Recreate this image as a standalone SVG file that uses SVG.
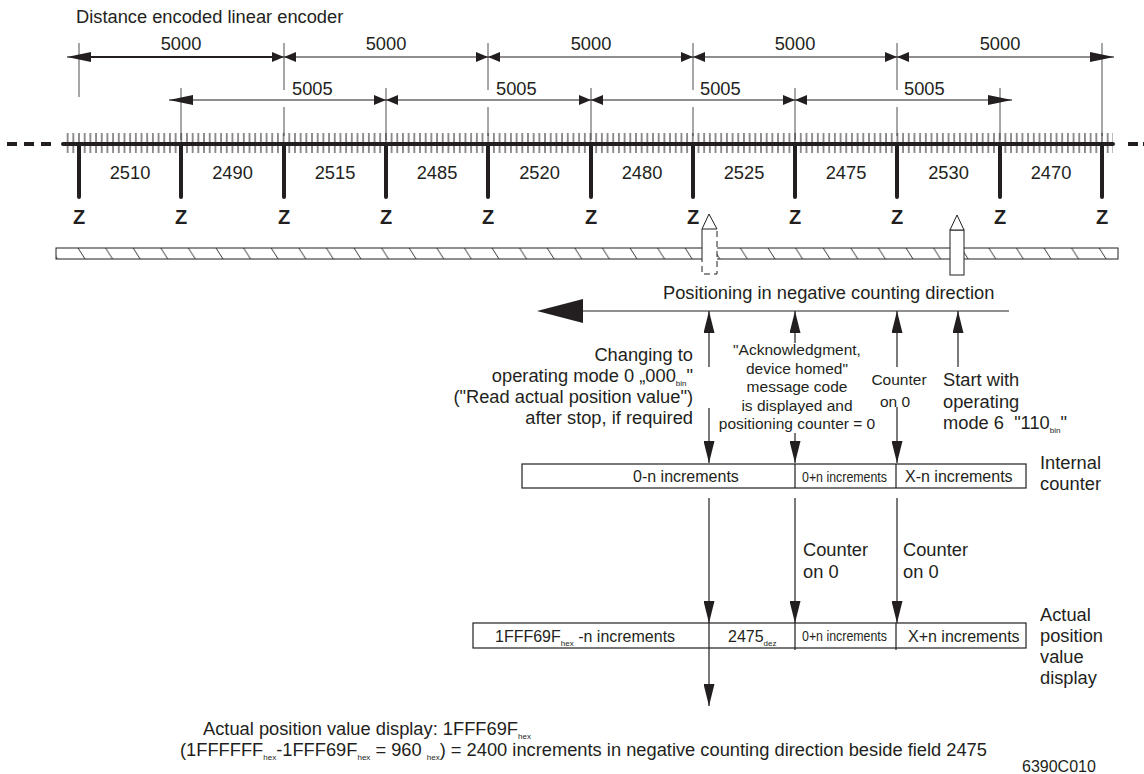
<svg xmlns="http://www.w3.org/2000/svg" width="1144" height="774" viewBox="0 0 1144 774">
<style>
text { font-family: "Liberation Sans", Arial, Helvetica, sans-serif; fill: #231f20; }
.t18 { font-size: 18.3px; }
.t16 { font-size: 16px; }
.t15 { font-size: 15.5px; }
.z { font-size: 20px; font-weight: bold; text-anchor: middle; }
.mid { text-anchor: middle; }
.end { text-anchor: end; }
.ln { stroke: #231f20; stroke-width: 1.2; fill: none; }
.ext { stroke: #3a3a3a; stroke-width: 0.9; fill: none; }
.thick { stroke: #231f20; stroke-width: 4; stroke-linecap: round; fill: none; }
.box { fill: #fff; stroke: #231f20; stroke-width: 1.2; }
.sub { font-size: 8px; }
</style>
<defs>
<marker id="arr" viewBox="0 0 22 11" refX="22" refY="5.5" markerWidth="22" markerHeight="11" markerUnits="userSpaceOnUse" orient="auto"><path d="M0,0L22,5.5L0,11z" fill="#231f20"/></marker>
<marker id="dimEnd" viewBox="0 0 24 10" refX="24" refY="5" markerWidth="24" markerHeight="10" markerUnits="userSpaceOnUse" orient="auto-start-reverse"><path d="M0,0L24,5L0,10z" fill="#231f20"/></marker>
<marker id="bow" viewBox="-12 -5 24 10" refX="0" refY="0" markerWidth="24" markerHeight="10" markerUnits="userSpaceOnUse" orient="0"><path d="M-12,-5L0,0L-12,5zM12,-5L0,0L12,5z" fill="#231f20"/></marker>
<pattern id="ticks" x="76.16" y="133" width="5.6833" height="20" patternUnits="userSpaceOnUse"><line x1="2.84" y1="0" x2="2.84" y2="20" stroke="#231f20" stroke-width="1"/></pattern>
<pattern id="hatch" x="76" y="248" width="27.6" height="11" patternUnits="userSpaceOnUse"><line x1="2" y1="0" x2="9" y2="11" stroke="#231f20" stroke-width="0.9"/></pattern>
</defs>
<rect width="1144" height="774" fill="#fff"/>

<text class="t18" x="76" y="23">Distance encoded linear encoder</text>

<g id="scale">
<line x1="7" y1="144" x2="55" y2="144" stroke="#231f20" stroke-width="4" stroke-dasharray="10 7"/>
<line x1="1128" y1="144" x2="1144" y2="144" stroke="#231f20" stroke-width="4" stroke-dasharray="10 5"/>
<rect x="65" y="133" width="1048" height="20" fill="url(#ticks)"/>
<line class="thick" x1="63" y1="144" x2="1113" y2="144"/>
<path class="thick" d="M79,144V197M181,144V197M284,144V197M386,144V197M488,144V197M591,144V197M693,144V197M795,144V197M897,144V197M1000,144V197M1102,144V197"/>
<g class="t18 mid">
<text x="130" y="178.5">2510</text>
<text x="232.5" y="178.5">2490</text>
<text x="335" y="178.5">2515</text>
<text x="437" y="178.5">2485</text>
<text x="539.5" y="178.5">2520</text>
<text x="642" y="178.5">2480</text>
<text x="744" y="178.5">2525</text>
<text x="846" y="178.5">2475</text>
<text x="948.5" y="178.5">2530</text>
<text x="1051" y="178.5">2470</text>
</g>
<g class="z">
<text x="79" y="224">Z</text>
<text x="181" y="224">Z</text>
<text x="284" y="224">Z</text>
<text x="386" y="224">Z</text>
<text x="488" y="224">Z</text>
<text x="591" y="224">Z</text>
<text x="693" y="224">Z</text>
<text x="795" y="224">Z</text>
<text x="897" y="224">Z</text>
<text x="1000" y="224">Z</text>
<text x="1102" y="224">Z</text>
</g>
</g>

<g id="dimensions">
<path class="ext" d="M79,43V97M284,43V90M284,107V136M488,43V90M488,107V136M693,43V90M693,107V136M897,43V90M897,107V136M1102,43V136"/>
<path class="ext" d="M181,88V140M386,88V140M591,88V140M795,88V140M1000,88V140"/>
<polyline class="ln" points="67,57 284,57 488,57 693,57 897,57 1114,57" marker-start="url(#dimEnd)" marker-mid="url(#bow)" marker-end="url(#dimEnd)"/>
<line x1="80" y1="57" x2="272" y2="57" stroke="#231f20" stroke-width="1.8"/>
<polyline class="ln" points="169,100 386,100 591,100 795,100 1012,100" marker-start="url(#dimEnd)" marker-mid="url(#bow)" marker-end="url(#dimEnd)"/>
<g class="t18 mid">
<text x="181" y="49.5">5000</text>
<text x="386" y="49.5">5000</text>
<text x="591" y="49.5">5000</text>
<text x="795" y="49.5">5000</text>
<text x="1000" y="49.5">5000</text>
</g>
<g class="t18">
<text x="292" y="94.5">5005</text>
<text x="496" y="94.5">5005</text>
<text x="700" y="94.5">5005</text>
<text x="904" y="94.5">5005</text>
</g>
</g>

<g id="bar">
<rect x="56" y="248" width="1062" height="11" fill="url(#hatch)" stroke="#231f20" stroke-width="1"/>
</g>
<g id="pointer-old">
<rect x="702" y="229" width="15" height="45" fill="#fff"/>
<polygon points="709,214 702,229 717,229" fill="#fff" stroke="#231f20" stroke-width="1"/>
<path d="M702,229V262" stroke="#231f20" stroke-width="1"/>
<path d="M702,266V274H717V229" fill="none" stroke="#231f20" stroke-width="1" stroke-dasharray="6 4"/>
</g>
<g id="pointer-start">
<rect x="950" y="230" width="14" height="45" fill="#fff" stroke="#231f20" stroke-width="1"/>
<polygon points="957,215 950,230 964,230" fill="#fff" stroke="#231f20" stroke-width="1"/>
</g>

<g id="direction">
<text class="t18" x="663" y="298.5">Positioning in negative counting direction</text>
<line class="ln" x1="580" y1="311" x2="1009" y2="311"/>
<polygon points="537,311 583,299 583,323" fill="#231f20"/>
</g>

<g id="connectors">
<g class="ln">
<line x1="709" y1="367" x2="709" y2="311" marker-end="url(#arr)"/>
<line x1="709" y1="408" x2="709" y2="463" marker-end="url(#arr)"/>
<line x1="795" y1="343" x2="795" y2="311" marker-end="url(#arr)"/>
<line x1="795" y1="433" x2="795" y2="463" marker-end="url(#arr)"/>
<line x1="897" y1="367" x2="897" y2="311" marker-end="url(#arr)"/>
<line x1="897" y1="407" x2="897" y2="463" marker-end="url(#arr)"/>
<line x1="958" y1="367" x2="958" y2="311" marker-end="url(#arr)"/>
<line x1="709" y1="498" x2="709" y2="623" marker-end="url(#arr)"/>
<line x1="795" y1="498" x2="795" y2="623" marker-end="url(#arr)"/>
<line x1="897" y1="498" x2="897" y2="623" marker-end="url(#arr)"/>
<line x1="709" y1="648" x2="709" y2="706" marker-end="url(#arr)"/>
</g>
</g>

<g id="note-change">
<text class="t18 end" x="693" y="361">Changing to</text>
<text class="t18 end" x="693" y="382">operating mode 0 „000<tspan class="sub" dy="4">bin</tspan><tspan dy="-4">"</tspan></text>
<text class="t18 end" x="693" y="403">("Read actual position value")</text>
<text class="t18 end" x="693" y="424">after stop, if required</text>
</g>
<g id="note-ack" class="t15 mid">
<text x="797" y="355">"Acknowledgment,</text>
<text x="797" y="373.5">device homed"</text>
<text x="797" y="392">message code</text>
<text x="797" y="410.5">is displayed and</text>
<text x="797" y="429">positioning counter = 0</text>
</g>
<g id="note-counter" class="t15 mid">
<text x="899" y="385">Counter</text>
<text x="895" y="407">on 0</text>
</g>
<g id="note-start">
<text class="t18" x="943" y="386">Start with</text>
<text class="t18" x="943" y="408">operating</text>
<text class="t18" x="943" y="429" xml:space="preserve">mode 6  "110<tspan class="sub" dy="4">bin</tspan><tspan dy="-4">"</tspan></text>
</g>

<g id="internal-counter">
<rect class="box" x="522" y="464" width="504" height="24"/>
<path class="ln" d="M795,464V488M896,464V488"/>
<text class="t16" x="633" y="482">0-n increments</text>
<text x="802" y="481.5" font-size="15" textLength="85" lengthAdjust="spacingAndGlyphs">0+n increments</text>
<text class="t16" x="905" y="482">X-n increments</text>
<text class="t18" x="1040" y="469">Internal</text>
<text class="t18" x="1040" y="490">counter</text>
</g>

<g id="counter-labels" class="t18">
<text x="803" y="556">Counter</text>
<text x="803" y="578">on 0</text>
<text x="903" y="556">Counter</text>
<text x="903" y="578">on 0</text>
</g>

<g id="actual-display">
<rect class="box" x="473" y="623" width="553" height="25"/>
<path class="ln" d="M709,623V648M795,623V650M896,623V650"/>
<text class="t16" x="495" y="641.5">1FFF69F<tspan class="sub" dy="4">hex</tspan><tspan dy="-4"> -n increments</tspan></text>
<text class="t16" x="728" y="641.5">2475<tspan class="sub" dy="4">dez</tspan></text>
<text x="802" y="641" font-size="15" textLength="85" lengthAdjust="spacingAndGlyphs">0+n increments</text>
<text class="t16" x="908" y="641.5">X+n increments</text>
<text class="t18" x="1040" y="621">Actual</text>
<text class="t18" x="1040" y="642">position</text>
<text class="t18" x="1040" y="663">value</text>
<text class="t18" x="1040" y="684">display</text>
</g>

<g id="footnote">
<text class="t18" x="203" y="735">Actual position value display: 1FFF69F<tspan class="sub" dy="4">hex</tspan></text>
<text class="t18" x="180" y="756" xml:space="preserve">(1FFFFFF<tspan class="sub" dy="4">hex</tspan><tspan dy="-4">-1FFF69F</tspan><tspan class="sub" dy="4">hex</tspan><tspan dy="-4"> = 960 </tspan><tspan class="sub" dy="4">hex</tspan><tspan dy="-4">) = 2400 increments in negative counting direction beside field 2475</tspan></text>
<text x="1022" y="772" font-size="16">6390C010</text>
</g>
</svg>
